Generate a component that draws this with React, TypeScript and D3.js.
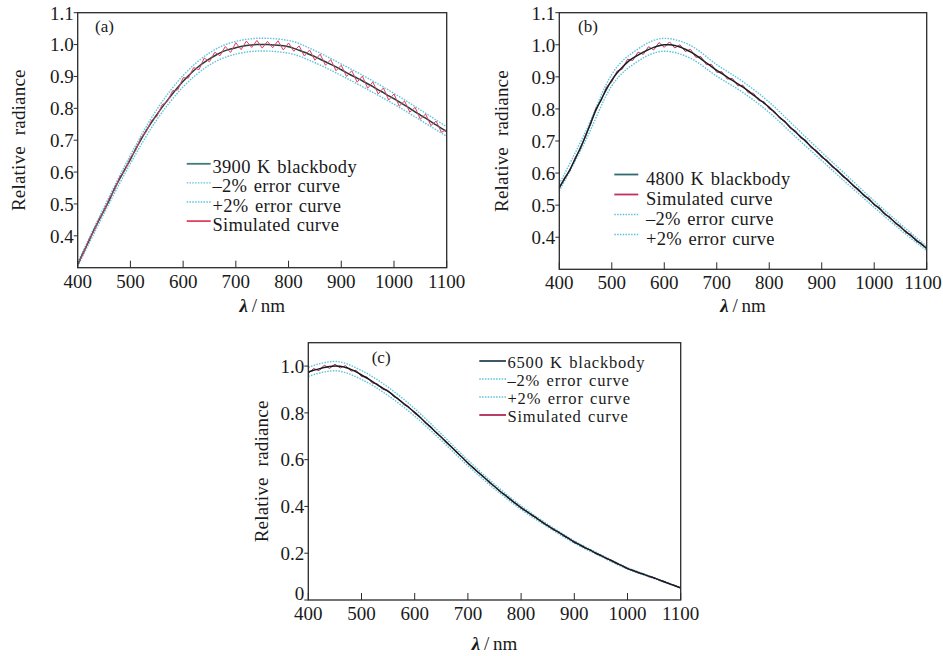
import React from "react";
import * as d3 from "d3";

const FONT = "'Liberation Serif', 'Times New Roman', serif";

// sampling grids (nm)
const LAMBDA_FINE = d3.range(400, 1101, 10);
const LAMBDA_COARSE = [400, 450, 500, 550, 600, 650, 700, 750, 800, 850, 900, 950, 1000, 1050, 1100];
const X_TICKS = [400, 500, 600, 700, 800, 900, 1000, 1100];
const Y_TICKS_AB = [0.4, 0.5, 0.6, 0.7, 0.8, 0.9, 1.0, 1.1];
const Y_TICKS_C = [0, 0.2, 0.4, 0.6, 0.8, 1.0];

// (a) 3900 K
const BB_A = [0.31, 0.345, 0.38, 0.415, 0.448, 0.48, 0.513, 0.548, 0.58, 0.61,
  0.64, 0.672, 0.702, 0.73, 0.756, 0.78, 0.803, 0.825, 0.846, 0.866,
  0.885, 0.902, 0.918, 0.932, 0.944, 0.955, 0.965, 0.974, 0.981, 0.986,
  0.99, 0.994, 0.997, 0.999, 1.0, 1.0, 1.0, 0.999, 0.998, 0.996,
  0.993, 0.988, 0.982, 0.976, 0.969, 0.962, 0.954, 0.946, 0.938, 0.93,
  0.921, 0.912, 0.903, 0.895, 0.886, 0.877, 0.868, 0.858, 0.849, 0.839,
  0.83, 0.82, 0.81, 0.8, 0.789, 0.779, 0.769, 0.758, 0.748, 0.737,
  0.727];
const SIM_A = [0.312, 0.343, 0.384, 0.412, 0.452, 0.478, 0.518, 0.544, 0.586, 0.606,
  0.646, 0.668, 0.708, 0.726, 0.762, 0.774, 0.811, 0.821, 0.855, 0.858,
  0.896, 0.895, 0.928, 0.921, 0.958, 0.946, 0.976, 0.965, 0.994, 0.975,
  1.006, 0.984, 1.011, 0.991, 1.013, 0.989, 1.01, 0.99, 1.012, 0.983,
  1.005, 0.979, 0.996, 0.964, 0.983, 0.951, 0.97, 0.935, 0.953, 0.918,
  0.935, 0.9, 0.918, 0.882, 0.901, 0.863, 0.883, 0.845, 0.864, 0.826,
  0.845, 0.807, 0.823, 0.788, 0.803, 0.766, 0.782, 0.746, 0.76, 0.725,
  0.733];
const MINUS_A = [0.304, 0.47, 0.627, 0.764, 0.867, 0.936, 0.97, 0.98, 0.973, 0.943, 0.903, 0.859, 0.813, 0.763, 0.712];
const PLUS_A = [0.316, 0.49, 0.653, 0.796, 0.903, 0.974, 1.01, 1.02, 1.013, 0.981, 0.939, 0.895, 0.847, 0.795, 0.742];

// (b) 4800 K
const BB_B = [0.555, 0.582, 0.61, 0.643, 0.678, 0.715, 0.757, 0.797, 0.83, 0.862,
  0.89, 0.912, 0.93, 0.946, 0.958, 0.968, 0.977, 0.985, 0.992, 0.997,
  1.0, 1.0, 0.998, 0.993, 0.986, 0.978, 0.968, 0.956, 0.944, 0.932,
  0.92, 0.91, 0.899, 0.889, 0.878, 0.868, 0.856, 0.843, 0.831, 0.818,
  0.805, 0.789, 0.774, 0.759, 0.743, 0.728, 0.713, 0.698, 0.682, 0.667,
  0.652, 0.637, 0.622, 0.607, 0.592, 0.577, 0.562, 0.547, 0.532, 0.518,
  0.503, 0.489, 0.474, 0.46, 0.446, 0.432, 0.418, 0.405, 0.391, 0.378,
  0.365];
const SIM_B = [0.552, 0.587, 0.606, 0.648, 0.674, 0.72, 0.752, 0.803, 0.826, 0.869,
  0.884, 0.918, 0.924, 0.955, 0.951, 0.977, 0.97, 0.994, 0.984, 1.007,
  0.992, 1.009, 0.99, 1.0, 0.979, 0.986, 0.961, 0.963, 0.938, 0.939,
  0.914, 0.916, 0.893, 0.895, 0.872, 0.874, 0.85, 0.849, 0.826, 0.823,
  0.8, 0.793, 0.77, 0.763, 0.739, 0.732, 0.709, 0.702, 0.678, 0.671,
  0.648, 0.641, 0.618, 0.611, 0.588, 0.581, 0.558, 0.551, 0.528, 0.522,
  0.499, 0.493, 0.47, 0.464, 0.442, 0.436, 0.414, 0.409, 0.387, 0.382,
  0.363];
const MINUS_B = [0.544, 0.701, 0.872, 0.949, 0.98, 0.958, 0.902, 0.851, 0.789, 0.713, 0.639, 0.565, 0.493, 0.423, 0.358];
const PLUS_B = [0.566, 0.729, 0.908, 0.987, 1.02, 0.998, 0.938, 0.885, 0.821, 0.743, 0.665, 0.589, 0.513, 0.441, 0.372];

// (c) 6500 K
const BB_C = [0.975, 0.982, 0.988, 0.994, 0.998, 1.0, 0.999, 0.994, 0.986, 0.975,
  0.962, 0.949, 0.935, 0.92, 0.906, 0.892, 0.875, 0.857, 0.839, 0.821,
  0.802, 0.781, 0.76, 0.739, 0.717, 0.696, 0.674, 0.652, 0.63, 0.608,
  0.586, 0.565, 0.545, 0.525, 0.505, 0.485, 0.466, 0.448, 0.43, 0.412,
  0.395, 0.379, 0.364, 0.348, 0.333, 0.318, 0.304, 0.29, 0.276, 0.262,
  0.248, 0.236, 0.224, 0.213, 0.201, 0.19, 0.179, 0.168, 0.157, 0.146,
  0.135, 0.126, 0.118, 0.11, 0.102, 0.094, 0.086, 0.077, 0.069, 0.06,
  0.052];
const SIM_C = [0.968, 0.99, 0.98, 1.004, 0.99, 1.008, 0.992, 1.002, 0.979, 0.982,
  0.955, 0.954, 0.928, 0.924, 0.9, 0.896, 0.87, 0.86, 0.834, 0.824,
  0.797, 0.784, 0.756, 0.742, 0.713, 0.698, 0.671, 0.655, 0.627, 0.61,
  0.583, 0.567, 0.542, 0.527, 0.502, 0.487, 0.463, 0.45, 0.427, 0.414,
  0.392, 0.381, 0.361, 0.35, 0.33, 0.32, 0.301, 0.292, 0.273, 0.264,
  0.245, 0.238, 0.221, 0.215, 0.198, 0.192, 0.176, 0.17, 0.154, 0.148,
  0.132, 0.128, 0.115, 0.112, 0.099, 0.096, 0.083, 0.079, 0.066, 0.062,
  0.05];
const MINUS_C = [0.956, 0.98, 0.943, 0.874, 0.786, 0.682, 0.574, 0.475, 0.387, 0.312, 0.243, 0.186, 0.132, 0.092, 0.051];
const PLUS_C = [0.995, 1.02, 0.981, 0.91, 0.818, 0.71, 0.598, 0.495, 0.403, 0.324, 0.253, 0.194, 0.138, 0.096, 0.053];

const ERR_COLOR = "#5cc3dc";
const INK = "#1a1a1a";

const PANELS = [
  {
    tag: "(a)", bbLabel: "3900 K blackbody",
    box: { left: 77.7, top: 12.7, right: 446.7, bottom: 267.7 },
    yDomain: [0.3, 1.1], yTicks: Y_TICKS_AB,
    bb: BB_A, sim: SIM_A, minus: MINUS_A, plus: PLUS_A,
    bbColor: "#1d3f40", bbLegend: "#3d7c7c", simColor: "#e2405e", simOnTop: true,
    legendKeys: ["bb", "minus", "plus", "sim"],
    legend: { x1: 186.7, x2: 210.7, tx: 212.5, y0: 173.3, gap: 19.1, dy: -9.5, size: 18.5, ls: 0.3 },
    titleX: 18, tagX: 95, tagY: 32, xTitleDy: 44,
  },
  {
    tag: "(b)", bbLabel: "4800 K blackbody",
    box: { left: 559.3, top: 12.7, right: 926.7, bottom: 269.3 },
    yDomain: [0.3, 1.1], yTicks: Y_TICKS_AB,
    bb: BB_B, sim: SIM_B, minus: MINUS_B, plus: PLUS_B,
    bbColor: "#1a1f22", bbLegend: "#2f6a72", simColor: "#c2305e", simOnTop: false,
    legendKeys: ["bb", "sim", "minus", "plus"],
    legend: { x1: 614.3, x2: 638.3, tx: 646, y0: 185, gap: 20, dy: -10.5, size: 18.5, ls: 0.3 },
    titleX: 501.7, tagX: 578, tagY: 32, xTitleDy: 43,
  },
  {
    tag: "(c)", bbLabel: "6500 K blackbody",
    box: { left: 308.3, top: 342.7, right: 680.7, bottom: 600 },
    yDomain: [0, 1.1], yTicks: Y_TICKS_C,
    bb: BB_C, sim: SIM_C, minus: MINUS_C, plus: PLUS_C,
    bbColor: "#1a1a1e", bbLegend: "#2a4656", simColor: "#b02a5a", simOnTop: false,
    legendKeys: ["bb", "minus", "plus", "sim"],
    legend: { x1: 479.3, x2: 506, tx: 507.5, y0: 367.5, gap: 18, dy: -6.5, size: 16.5, ls: 0.8 },
    titleX: 261.7, tagX: 371.7, tagY: 363, xTitleDy: 50,
  },
];

const zip = (xs: number[], ys: number[]) => xs.map((l, i) => [l, ys[i]] as [number, number]);

function Panel({ p }: { p: any }) {
  const { box } = p;
  const x = d3.scaleLinear().domain([400, 1100]).range([box.left, box.right]);
  const y = d3.scaleLinear().domain(p.yDomain).range([box.bottom, box.top]);
  const straight = d3.line<[number, number]>().x(d => x(d[0])).y(d => y(d[1]));
  const smooth = d3.line<[number, number]>().x(d => x(d[0])).y(d => y(d[1])).curve(d3.curveMonotoneX);

  const bbPath = smooth(zip(LAMBDA_FINE, p.bb)) || "";
  const simPath = straight(zip(LAMBDA_FINE, p.sim)) || "";
  const minusPath = smooth(zip(LAMBDA_COARSE, p.minus)) || "";
  const plusPath = smooth(zip(LAMBDA_COARSE, p.plus)) || "";

  const bbEl = <path d={bbPath} fill="none" stroke={p.bbColor} strokeWidth={1.5} />;
  const simEl = <path d={simPath} fill="none" stroke={p.simColor} strokeWidth={1} />;

  const legendItems: Record<string, { label: string; stroke: string; dash?: string }> = {
    bb: { label: p.bbLabel, stroke: p.bbLegend },
    minus: { label: "\u20132% error curve", stroke: ERR_COLOR, dash: "1.5 1.3" },
    plus: { label: "+2% error curve", stroke: ERR_COLOR, dash: "1.5 1.3" },
    sim: { label: "Simulated curve", stroke: p.simColor },
  };

  const fmt = (v: number) => (v === 0 ? "0" : d3.format(".1f")(v));
  const yMid = (box.top + box.bottom) / 2;
  const xMid = (box.left + box.right) / 2;

  return (
    <g>
      <g fill="none" strokeWidth={1.4} stroke={ERR_COLOR} strokeDasharray="1.5 1.3">
        <path d={minusPath} />
        <path d={plusPath} />
      </g>
      {p.simOnTop ? bbEl : simEl}
      {p.simOnTop ? simEl : bbEl}

      {/* frame */}
      <rect x={box.left} y={box.top} width={box.right - box.left} height={box.bottom - box.top}
        fill="none" stroke="#2a2a2a" strokeWidth={1.3} />

      {/* x axis: inward ticks */}
      {X_TICKS.map(t => (
        <g key={t}>
          <line x1={x(t)} x2={x(t)} y1={box.bottom} y2={box.bottom - 7} stroke="#2a2a2a" strokeWidth={1} />
          <text x={Math.min(x(t), 923)} y={box.bottom + 20} textAnchor="middle" fontSize={19} fill={INK}>{t}</text>
        </g>
      ))}
      {/* y axis: outward ticks */}
      {p.yTicks.map((t: number) => (
        <g key={t}>
          <line x1={box.left - 4} x2={box.left} y1={y(t)} y2={y(t)} stroke="#2a2a2a" strokeWidth={1} />
          <text x={box.left - 4} y={y(t) - (t === 0 ? 7 : 0)} dy="0.36em" textAnchor="end" fontSize={19} fill={INK}>{fmt(t)}</text>
        </g>
      ))}

      <text x={p.tagX} y={p.tagY} fontSize={17} fill={INK}>{p.tag}</text>

      <text transform={`translate(${p.titleX},${yMid}) rotate(-90)`} textAnchor="middle" dy="0.35em"
        fontSize={19} wordSpacing={6} letterSpacing={0.2} fill={INK}>Relative radiance</text>
      <text x={xMid} y={box.bottom + p.xTitleDy} textAnchor="middle" fontSize={19} fill={INK}>
        <tspan fontStyle="italic" fontWeight="bold">λ</tspan>
        <tspan>{"\u2009/\u2009nm"}</tspan>
      </text>

      {p.legendKeys.map((k: string, i: number) => {
        const it = legendItems[k];
        const by = p.legend.y0 + i * p.legend.gap;
        return (
          <g key={k}>
            <line x1={p.legend.x1} x2={p.legend.x2} y1={by + p.legend.dy} y2={by + p.legend.dy}
              stroke={it.stroke} strokeWidth={it.dash ? 1.4 : 1.8} strokeDasharray={it.dash} />
            <text x={p.legend.tx} y={by} fontSize={p.legend.size} letterSpacing={p.legend.ls} wordSpacing={1.5} fill={INK}>{it.label}</text>
          </g>
        );
      })}
    </g>
  );
}

export default function App() {
  return (
    <svg width={943} height={656} style={{ position: "absolute", left: 0, top: 0, background: "#fff" }}
      fontFamily={FONT}>
      <rect width={943} height={656} fill="#fff" />
      {PANELS.map(p => <Panel key={p.tag} p={p} />)}
    </svg>
  );
}
